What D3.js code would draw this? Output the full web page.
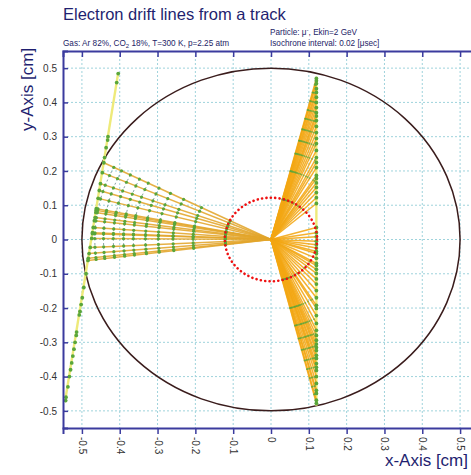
<!DOCTYPE html>
<html><head><meta charset="utf-8">
<script src="https://cdn.jsdelivr.net/npm/d3@7"></script>
<style>body{margin:0;background:#fff;} svg{display:block;font-family:Arial,"Liberation Sans",sans-serif;}</style>
</head><body>
<svg id="c" width="471" height="475"></svg>
<script>
// ---- data ----
const xTicks = [-0.5,-0.4,-0.3,-0.2,-0.1,0,0.1,0.2,0.3,0.4,0.5];
const xTickLabels = ["-0.5","-0.4","-0.3","-0.2","-0.1","0","0.1","0.2","0.3","0.4","0.5"];
const yTicks = [-0.5,-0.4,-0.3,-0.2,-0.1,0,0.1,0.2,0.3,0.4,0.5];
const yTickLabels = ["-0.5","-0.4","-0.3","-0.2","-0.1","0","0.1","0.2","0.3","0.4","0.5"];
const cellRadius = 0.5;
const innerRadius = 0.122;
const wire = [0, 0];
const leftTrack = [[-0.545,-0.475],[-0.404,0.487]];
const rightTrack = [[0.12,-0.485],[0.12,0.475]];
const leftStartX = [-0.442,-0.446,-0.451,-0.454,-0.457,-0.462,-0.462,-0.463,-0.465,-0.467,-0.470,-0.472,-0.472,-0.474,-0.478,-0.481,-0.483,-0.484];
const leftStartY = [0.224,0.195,0.163,0.143,0.12,0.09,0.085,0.079,0.064,0.055,0.035,0.02,0.017,0.003,-0.023,-0.041,-0.055,-0.061];
const rightUpperY = [0.47,0.463,0.455,0.44,0.429,0.415,0.40,0.385,0.37,0.36,0.347,0.33,0.312,0.295,0.28,0.26,0.239,0.225,0.21,0.187,0.178,0.165,0.152,0.137,0.122,0.105];
const rightLowerY = [0.035,0.02,0.008,-0.005,-0.015,-0.025,-0.035,-0.041,-0.055,-0.07,-0.076,-0.087,-0.099,-0.115,-0.13,-0.149,-0.17,-0.192,-0.201,-0.222,-0.245,-0.265,-0.28,-0.294,-0.305,-0.315,-0.324,-0.338,-0.347,-0.362,-0.373,-0.382,-0.40,-0.42,-0.44,-0.449,-0.469,-0.478];
const rightTrackX = 0.12;
const isoRadii = [0.121,0.206,0.259,0.298,0.332,0.364,0.39,0.417,0.443,0.466];
const outsideDotsX = [-0.404,-0.408,-0.431,-0.432,-0.436,-0.440,-0.489,-0.495,-0.499,-0.502,-0.505,-0.507,-0.514,-0.515,-0.518,-0.521,-0.524,-0.527,-0.530,-0.533,-0.537,-0.542,-0.543];
const outsideDotsY = [0.484,0.458,0.30,0.29,0.268,0.239,-0.10,-0.14,-0.17,-0.19,-0.21,-0.22,-0.27,-0.28,-0.30,-0.32,-0.34,-0.36,-0.38,-0.40,-0.43,-0.46,-0.47];

// ---- drawing ----
const svg = d3.select("#c");
const x = d3.scaleLinear().domain([-0.55,0.55]).range([63,479]);
const y = d3.scaleLinear().domain([-0.55,0.55]).range([428,51]);
const navy = "#3b3b9e";

svg.append("defs").append("clipPath").attr("id","clip")
  .append("rect").attr("x",63).attr("y",51).attr("width",416).attr("height",377);

// grid
const grid = svg.append("g").attr("stroke","#9fd3dc").attr("stroke-width",1).attr("stroke-dasharray","2,2");
grid.selectAll(".gv").data(xTicks).join("line").attr("class","gv")
  .attr("x1",d=>x(d)).attr("x2",d=>x(d)).attr("y1",y(0.55)).attr("y2",y(-0.55));
grid.selectAll(".gh").data(yTicks).join("line").attr("class","gh")
  .attr("y1",d=>y(d)).attr("y2",d=>y(d)).attr("x1",x(-0.55)).attr("x2",x(0.55));

const plot = svg.append("g").attr("clip-path","url(#clip)");

// cell circle
plot.append("ellipse").attr("cx",x(0)).attr("cy",y(0))
  .attr("rx",x(cellRadius)-x(0)).attr("ry",y(0)-y(cellRadius))
  .attr("fill","none").attr("stroke","#3a1c1c").attr("stroke-width",1.5);

// tracks
const line = d3.line().x(d=>x(d[0])).y(d=>y(d[1]));
[leftTrack,rightTrack].forEach(t=>{
  plot.append("path").attr("d",line(t)).attr("fill","none")
    .attr("stroke","#eeea7a").attr("stroke-width",2.4);
});

// drift line groups
const groups = [
  leftStartX.map((sx,i)=>[sx,leftStartY[i]]),
  rightUpperY.map(sy=>[rightTrackX,sy]),
  rightLowerY.map(sy=>[rightTrackX,sy])
];
const dl = plot.append("g");
groups.forEach((g,gi)=>{
  dl.selectAll(null).data(g).join("path")
    .attr("d",d=>line([d,wire])).attr("fill","none")
    .attr("stroke", gi===0 ? "#e3a52a" : "#f2a612")
    .attr("stroke-width",1.5).attr("stroke-opacity",0.88);
});

// isochrone dashes and markers
function ptAt(s,r){const L=Math.hypot(s[0],s[1]);return L>r?[s[0]*r/L,s[1]*r/L]:null;}
const iso = plot.append("g").attr("stroke","#78959a").attr("stroke-width",0.9).attr("stroke-dasharray","2,2.5");
const marks = [];
groups.forEach((g,gi)=>{
  isoRadii.forEach(r=>{
    const pts = g.map(s=>ptAt(s,r));
    pts.forEach(p=>{ if(p) marks.push({p, big: gi===0}); });
    if(gi===0) for(let i=0;i<pts.length-1;i++){
      if(pts[i]&&pts[i+1]) iso.append("line")
        .attr("x1",x(pts[i][0])).attr("y1",y(pts[i][1]))
        .attr("x2",x(pts[i+1][0])).attr("y2",y(pts[i+1][1]));
    }
  });
});
const dots = plot.append("g").attr("fill","#5aa63a");
dots.selectAll(".m").data(marks).join("circle").attr("class","m")
  .attr("cx",d=>x(d.p[0])).attr("cy",d=>y(d.p[1])).attr("r",d=>d.big?1.6:0.9)
  .attr("fill-opacity",d=>d.big?1:0.7);
const starts = groups.flat();
dots.selectAll(".s").data(starts).join("circle").attr("class","s")
  .attr("cx",d=>x(d[0])).attr("cy",d=>y(d[1])).attr("r",1.9);
dots.selectAll(".o").data(outsideDotsX.map((v,i)=>[v,outsideDotsY[i]])).join("circle").attr("class","o")
  .attr("cx",d=>x(d[0])).attr("cy",d=>y(d[1])).attr("r",1.9);

// inner dotted red circle
plot.append("ellipse").attr("cx",x(0)).attr("cy",y(0))
  .attr("rx",x(innerRadius)-x(0)).attr("ry",y(0)-y(innerRadius))
  .attr("fill","none").attr("stroke","#ee1010").attr("stroke-width",2.6)
  .attr("stroke-linecap","round").attr("stroke-dasharray","0.1,4.3");

// axes
const ax = svg.append("g");
const axLeft = ax.append("g").attr("transform",`translate(${x(-0.55)},0)`)
  .call(d3.axisLeft(y).tickValues(yTicks).tickFormat((d,i)=>yTickLabels[i]).tickSize(-5).tickPadding(6));
const axBottom = ax.append("g").attr("transform",`translate(0,${y(-0.55)})`)
  .call(d3.axisBottom(x).tickValues(xTicks).tickFormat((d,i)=>xTickLabels[i]).tickSize(6).tickPadding(4));
axBottom.selectAll("text").attr("transform","rotate(90)").attr("x",9).attr("y",0)
  .attr("dy","0.35em").attr("text-anchor","start");
const axTop = ax.append("g").attr("transform",`translate(0,${y(0.55)})`)
  .call(d3.axisTop(x).tickValues(xTicks).tickFormat("").tickSize(-6));
[axLeft,axBottom,axTop].forEach(a=>{
  a.select(".domain").attr("stroke",navy).attr("stroke-width",2);
  a.selectAll(".tick line").attr("stroke",navy).attr("stroke-width",1.5);
  a.selectAll("text").attr("fill","#333").style("font-size","10px").style("font-family","Arial, 'Liberation Sans', sans-serif");
});

// texts
svg.append("text").attr("x",63).attr("y",20).attr("fill","#1f1f70")
  .style("font-size","16.5px").text("Electron drift lines from a track");
const g1 = svg.append("text").attr("x",63).attr("y",46).attr("fill","#232366").style("font-size","8.2px");
g1.append("tspan").text("Gas: Ar 82%, CO");
g1.append("tspan").attr("dy",2).style("font-size","6px").text("2");
g1.append("tspan").attr("dy",-2).text(" 18%, T=300 K, p=2.25 atm");
const p1 = svg.append("text").attr("x",270).attr("y",35).attr("fill","#232366").style("font-size","8.2px");
p1.append("tspan").text("Particle: \u03bc");
p1.append("tspan").attr("dy",-3).style("font-size","6px").text("-");
p1.append("tspan").attr("dy",3).text(", Ekin=2 GeV");
svg.append("text").attr("x",270).attr("y",46).attr("fill","#232366").style("font-size","8.2px")
  .text("Isochrone interval: 0.02 [\u03bcsec]");
svg.append("text").attr("transform","translate(33,131) rotate(-90)").attr("fill","#1f1f70")
  .style("font-size","17px").text("y-Axis [cm]");
svg.append("text").attr("x",468).attr("y",466).attr("text-anchor","end").attr("fill","#1f1f70")
  .style("font-size","17px").text("x-Axis [cm]");
</script>
</body></html>
